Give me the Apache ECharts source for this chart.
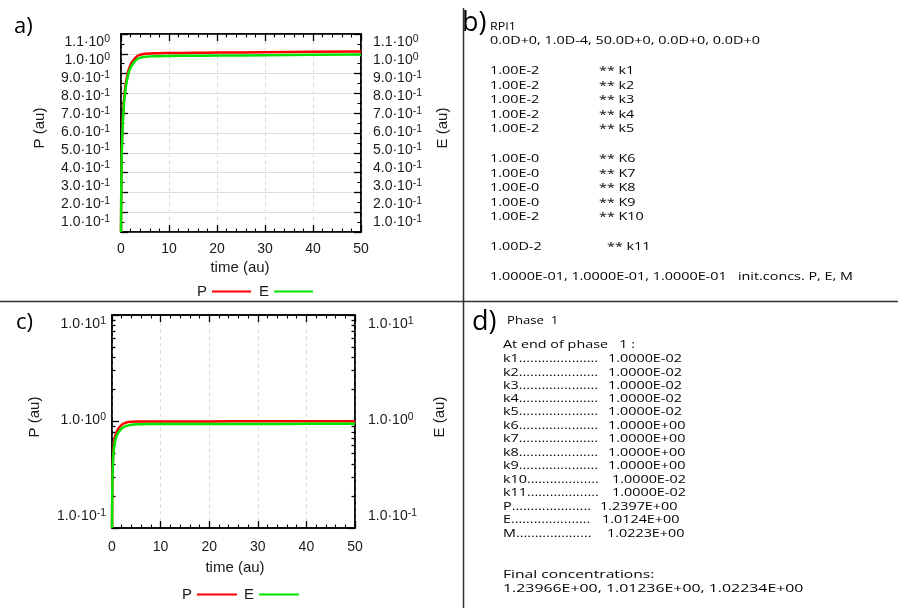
<!DOCTYPE html>
<html><head><meta charset="utf-8">
<script src="https://cdn.jsdelivr.net/npm/echarts@6/dist/echarts.min.js"></script>
<style>html,body{margin:0;padding:0;background:#fff}#c{width:898px;height:608px}</style>
</head><body><div id="c"></div>
<script>
// ---------- panel a data (linear axis) ----------
const tA = [0, 0.05, 0.1, 0.2, 0.4, 0.6, 0.8, 1.0, 1.5, 2.0, 2.5, 3.0, 3.5, 4.0, 5.0, 6, 8, 10, 15, 20, 30, 40, 50];
const pA = [0.10, 0.30, 0.42, 0.55, 0.68, 0.76, 0.81, 0.85, 0.91, 0.945, 0.965, 0.98, 0.99, 0.995, 1.0, 1.002, 1.003, 1.004, 1.005, 1.006, 1.008, 1.01, 1.012];
const eA = [0.10, 0.29, 0.40, 0.53, 0.66, 0.74, 0.79, 0.83, 0.895, 0.93, 0.95, 0.965, 0.975, 0.98, 0.985, 0.987, 0.988, 0.989, 0.99, 0.991, 0.993, 0.995, 0.997];
// ---------- panel c data (log axis) ----------
const tC = [0, 0.05, 0.1, 0.2, 0.3, 0.5, 0.7, 1.0, 1.5, 2.0, 2.5, 3, 4, 5, 7, 10, 20, 30, 40, 50];
const pC = [0.10, 0.22, 0.32, 0.45, 0.55, 0.66, 0.74, 0.81, 0.88, 0.93, 0.96, 0.98, 0.995, 1.0, 1.0, 1.0, 1.002, 1.004, 1.006, 1.008];
const eC = [0.10, 0.20, 0.29, 0.41, 0.50, 0.60, 0.67, 0.74, 0.81, 0.86, 0.89, 0.91, 0.93, 0.94, 0.945, 0.947, 0.948, 0.949, 0.95, 0.95];
// ---------- tick labels ----------
const aLabelVals = [0.1, 0.2, 0.3, 0.4, 0.5, 0.6, 0.7, 0.8, 0.9, 1.0, 1.1];
const aLabelMant = ['1.0', '2.0', '3.0', '4.0', '5.0', '6.0', '7.0', '8.0', '9.0', '1.0', '1.1'];
const aLabelExp = ['-1', '-1', '-1', '-1', '-1', '-1', '-1', '-1', '-1', '0', '0'];
const cLabelVals = [-1, 0, 1];
const cLabelMant = ['1.0', '1.0', '1.0'];
const cLabelExp = ['-1', '0', '1'];
const cMajorTicks = [0.1, 1, 10];
const cMinorTicks = [0.2, 0.3, 0.4, 0.5, 0.6, 0.7, 0.8, 0.9, 2, 3, 4, 5, 6, 7, 8, 9];
// ---------- text panels ----------
const bHeader = ['RPI1', '0.0D+0, 1.0D-4, 50.0D+0, 0.0D+0, 0.0D+0'];
const bRateVals = ['1.00E-2', '1.00E-2', '1.00E-2', '1.00E-2', '1.00E-2', '1.00E-0', '1.00E-0', '1.00E-0', '1.00E-0', '1.00E-2', '1.00D-2'];
const bRateNames = ['** k1', '** k2', '** k3', '** k4', '** k5', '** K6', '** K7', '** K8', '** K9', '** K10', '** k11'];
const bInit = '1.0000E-01, 1.0000E-01, 1.0000E-01   init.concs. P, E, M';
const dHeader = ['Phase  1', 'At end of phase   1 :'];
const dNames = ['k1.....................', 'k2.....................', 'k3.....................', 'k4.....................', 'k5.....................', 'k6.....................', 'k7.....................', 'k8.....................', 'k9.....................', 'k10...................', 'k11...................', 'P.....................', 'E.....................', 'M....................'];
const dValues = ['1.0000E-02', '1.0000E-02', '1.0000E-02', '1.0000E-02', '1.0000E-02', '1.0000E+00', '1.0000E+00', '1.0000E+00', '1.0000E+00', '1.0000E-02', '1.0000E-02', '1.2397E+00', '1.0124E+00', '1.0223E+00'];
const dFinal = ['Final concentrations:', '1.23966E+00, 1.01236E+00, 1.02234E+00'];

const FONT = '"Liberation Sans", Arial, sans-serif';
const TXT = '"Open Sans", sans-serif';
const RED = '#ff0000', GREEN = '#00e400';

function zip(t, v) { return t.map((x, i) => [x, v[i]]); }
function supFmt(vals, mant, exp) {
  return function (v) {
    for (let i = 0; i < vals.length; i++) {
      if (Math.abs(vals[i] - v) < 1e-6) return '{m|' + mant[i] + '·10}{s|' + exp[i] + '}';
    }
    return '';
  };
}
const rich = {
  m: { fontSize: 14, fontFamily: FONT, color: '#1a1a1a', lineHeight: 16 },
  s: { fontSize: 10.5, fontFamily: FONT, color: '#1a1a1a', verticalAlign: 'top', lineHeight: 10 }
};
const lineAx = { show: true, onZero: false, lineStyle: { color: '#000', width: 1.5 } };
const noLine = { show: false, onZero: false };
const tickAx = (len) => ({ show: true, inside: true, length: len, lineStyle: { color: '#000', width: 1.3 } });
const minorAx = (n) => ({ show: true, splitNumber: n, length: 3.5, lineStyle: { color: '#000', width: 1.1 } });
const gridLine = (type) => ({ show: true, lineStyle: { color: '#dcdcdc', width: 1, type: type } });

function xAxes(grid, pos, labels, split) {
  return {
    gridIndex: grid, type: 'value', position: pos, min: 0, max: 50, interval: 10,
    axisLine: lineAx, axisTick: tickAx(7), minorTick: minorAx(5),
    splitLine: split ? gridLine([4, 3]) : { show: false },
    axisLabel: labels ? { show: true, fontSize: 14, fontFamily: FONT, color: '#1a1a1a', margin: grid === 0 ? 10 : 12 } : { show: false }
  };
}
// tick-only log axes for panel c (minor ticks at 2..9 of each decade)
function logTickAxis(pos, vals, len, showLine) {
  return { gridIndex: 1, type: 'log', logBase: 10, position: pos, min: 0.1, max: 10,
    axisLine: showLine ? lineAx : noLine,
    axisTick: Object.assign(tickAx(len), { customValues: vals }),
    splitLine: { show: false }, axisLabel: { show: false } };
}

const option = {
  animation: false,
  backgroundColor: '#fff',
  grid: [
    { left: 121, right: 537, top: 34, bottom: 376, show: true, borderColor: '#000', borderWidth: 1.5, containLabel: false },
    { left: 112, right: 543, top: 315, bottom: 80, show: true, borderColor: '#000', borderWidth: 1.5, containLabel: false }
  ],
  xAxis: [
    xAxes(0, 'bottom', true, true),
    xAxes(0, 'top', false, false),
    xAxes(1, 'bottom', true, true),
    xAxes(1, 'top', false, false)
  ],
  yAxis: [
    // panel a: data axes
    { gridIndex: 0, type: 'value', position: 'left', min: 0.1, max: 1.1, interval: 0.1,
      axisLine: lineAx, axisTick: tickAx(7), minorTick: minorAx(2),
      splitLine: gridLine('solid'), axisLabel: { show: false } },
    { gridIndex: 0, type: 'value', position: 'right', min: 0.1, max: 1.1, interval: 0.1,
      axisLine: lineAx, axisTick: tickAx(7), minorTick: minorAx(2),
      splitLine: { show: false }, axisLabel: { show: false } },
    // panel a: label axes
    { gridIndex: 0, type: 'value', position: 'left', min: 0.0444444, max: 1.1444444,
      axisLine: noLine, axisTick: { show: false }, splitLine: { show: false },
      axisLabel: { show: true, customValues: aLabelVals, margin: 11, formatter: supFmt(aLabelVals, aLabelMant, aLabelExp), rich: rich } },
    { gridIndex: 0, type: 'value', position: 'right', min: 0.0444444, max: 1.1444444,
      axisLine: noLine, axisTick: { show: false }, splitLine: { show: false },
      axisLabel: { show: true, customValues: aLabelVals, margin: 12, formatter: supFmt(aLabelVals, aLabelMant, aLabelExp), rich: rich } },
    // panel c: log data axis (left, major ticks)
    logTickAxis('left', cMajorTicks, 7, true),
    logTickAxis('left', cMinorTicks, 3.5, false),
    logTickAxis('right', cMajorTicks, 7, true),
    logTickAxis('right', cMinorTicks, 3.5, false),
    // panel c: label axes (log10 space)
    { gridIndex: 1, type: 'value', position: 'left', min: -1.125, max: 1.09375,
      axisLine: noLine, axisTick: { show: false }, splitLine: { show: false },
      axisLabel: { show: true, customValues: cLabelVals, margin: 6, formatter: supFmt(cLabelVals, cLabelMant, cLabelExp), rich: rich } },
    { gridIndex: 1, type: 'value', position: 'right', min: -1.125, max: 1.09375,
      axisLine: noLine, axisTick: { show: false }, splitLine: { show: false },
      axisLabel: { show: true, customValues: cLabelVals, margin: 13, formatter: supFmt(cLabelVals, cLabelMant, cLabelExp), rich: rich } }
  ],
  legend: [
    { left: 192, top: 279, data: ['P', 'E'], align: 'right', icon: 'rect', itemWidth: 39, itemHeight: 2, itemGap: 8,
      textStyle: { fontSize: 15, fontFamily: FONT, color: '#1a1a1a' }, selectedMode: false },
    { left: 177, top: 582, data: ['P', 'E'], align: 'right', icon: 'rect', itemWidth: 40, itemHeight: 2, itemGap: 7,
      textStyle: { fontSize: 15, fontFamily: FONT, color: '#1a1a1a' }, selectedMode: false }
  ],
  series: [
    { name: 'P', type: 'line', xAxisIndex: 0, yAxisIndex: 0, data: zip(tA, pA), showSymbol: false, smooth: true, lineStyle: { color: RED, width: 2.5 }, itemStyle: { color: RED }, z: 3 },
    { name: 'E', type: 'line', xAxisIndex: 0, yAxisIndex: 0, data: zip(tA, eA), showSymbol: false, smooth: true, lineStyle: { color: GREEN, width: 2.5 }, itemStyle: { color: GREEN }, z: 4 },
    { name: 'P', type: 'line', xAxisIndex: 2, yAxisIndex: 4, data: zip(tC, pC), showSymbol: false, smooth: true, lineStyle: { color: RED, width: 2.5 }, itemStyle: { color: RED }, z: 3 },
    { name: 'E', type: 'line', xAxisIndex: 2, yAxisIndex: 4, data: zip(tC, eC), showSymbol: false, smooth: true, lineStyle: { color: GREEN, width: 2.5 }, itemStyle: { color: GREEN }, z: 4 }
  ],
  graphic: []
};

// ---------- graphic texts ----------
const G = option.graphic;
function txt(x, y, text, size, family, opts) {
  opts = opts || {};
  G.push({ type: 'text', x: x, y: y, scaleX: opts.scaleX || 1, rotation: opts.rotation || 0, silent: true,
    style: { text: text, font: (opts.weight || 'normal') + ' ' + size + 'px ' + family, fill: opts.fill || '#000',
      align: opts.align || 'left', verticalAlign: 'middle' } });
}
// divider lines
G.push({ type: 'line', silent: true, shape: { x1: 463.5, y1: 8, x2: 463.5, y2: 608 }, style: { stroke: '#333', lineWidth: 1.5 } });
G.push({ type: 'line', silent: true, shape: { x1: 0, y1: 301.5, x2: 898, y2: 301.5 }, style: { stroke: '#333', lineWidth: 1.5 } });
// panel letters
txt(14, 27, 'a)', 22, TXT);
txt(462, 23, 'b)', 27, TXT);
txt(16, 323, 'c)', 22, TXT);
txt(472, 322, 'd)', 27, TXT);
// axis titles
txt(40, 128, 'P (au)', 15, FONT, { align: 'center', rotation: Math.PI / 2, fill: '#1a1a1a' });
txt(443, 128, 'E (au)', 15, FONT, { align: 'center', rotation: Math.PI / 2, fill: '#1a1a1a' });
txt(240, 268, 'time (au)', 15, FONT, { align: 'center', fill: '#1a1a1a' });
txt(35, 417, 'P (au)', 15, FONT, { align: 'center', rotation: Math.PI / 2, fill: '#1a1a1a' });
txt(440, 417, 'E (au)', 15, FONT, { align: 'center', rotation: Math.PI / 2, fill: '#1a1a1a' });
txt(235, 568, 'time (au)', 15, FONT, { align: 'center', fill: '#1a1a1a' });

const SX = 1.25, TS = 11.5;
// panel b
txt(490, 27, bHeader[0], 10, TXT, { scaleX: SX });
txt(490, 41, bHeader[1], TS, TXT, { scaleX: SX });
const bY = [71, 86, 100, 115, 129, 159, 174, 188, 203, 217, 247];
bRateVals.forEach((v, i) => {
  txt(490, bY[i], v, TS, TXT, { scaleX: SX });
  txt(i === 10 ? 607 : 599, bY[i], bRateNames[i], TS, TXT, { scaleX: SX });
});
txt(490, 277, bInit, TS, TXT, { scaleX: SX });
// panel d
txt(507, 321, dHeader[0], 10.5, TXT, { scaleX: SX });
txt(503, 345, dHeader[1], TS, TXT, { scaleX: SX });
const dY = [359, 373, 386, 399, 412, 426, 439, 453, 466, 480, 493, 507, 520, 534];
const dVX = [608, 608, 608, 608, 608, 608, 608, 608, 608, 612, 612, 600, 602, 607];
dNames.forEach((n, i) => {
  txt(503, dY[i], n, TS, TXT, { scaleX: SX });
  txt(dVX[i], dY[i], dValues[i], TS, TXT, { scaleX: SX });
});
txt(503, 575, dFinal[0], TS, TXT, { scaleX: 1.36 });
txt(503, 589, dFinal[1], TS, TXT, { scaleX: 1.38 });

const chart = echarts.init(document.getElementById('c'), null, { renderer: 'canvas' });
chart.setOption(option);
</script></body></html>
